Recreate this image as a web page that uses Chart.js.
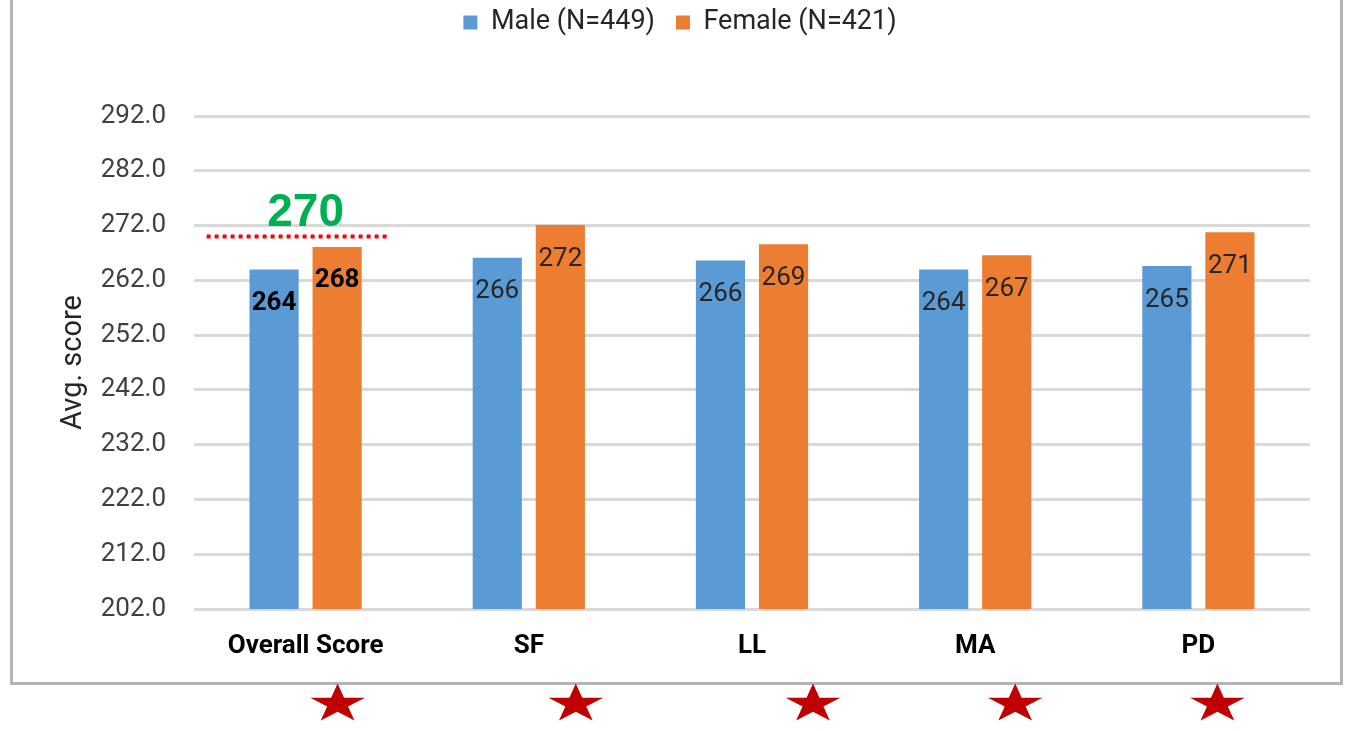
<!DOCTYPE html>
<html>
<head>
<meta charset="utf-8">
<script src="https://cdn.jsdelivr.net/npm/chart.js@4.4.1/dist/chart.umd.min.js"></script>
<style>
  html, body { margin: 0; padding: 0; background: #fff; }
  #wrap { width: 1345px; height: 731px; position: relative; }
</style>
</head>
<body>
<div id="wrap"><canvas id="scoreChart" width="1345" height="731"></canvas></div>
<script>
// Chart data
const categories = ['Overall Score', 'SF', 'LL', 'MA', 'PD'];
const seriesLabels = ['Male (N=449)', 'Female (N=421)'];
const maleScores = [264.0, 266.1, 265.6, 264.0, 264.6];
const femaleScores = [268.1, 272.1, 268.6, 266.6, 270.8];
const yTicks = [202, 212, 222, 232, 242, 252, 262, 272, 282, 292];
const targetScore = 270;
const targetLabel = '270';

// Styling
const FONT = 'Roboto, "Open Sans", sans-serif';
const BLUE = '#5B9BD5';
const ORANGE = '#ED7D31';
const starOffsets = [32, 47, 61, 40, 19]; // px right of each category centre

function drawStar(ctx, cx, cy, r, sx, color) {
  ctx.save();
  ctx.translate(cx, cy);
  ctx.scale(sx, 1);
  ctx.beginPath();
  for (let i = 0; i < 10; i++) {
    const rad = i % 2 === 0 ? r : r * 0.382;
    const a = -Math.PI / 2 + i * Math.PI / 5;
    const px = Math.cos(a) * rad, py = Math.sin(a) * rad;
    i === 0 ? ctx.moveTo(px, py) : ctx.lineTo(px, py);
  }
  ctx.closePath();
  ctx.fillStyle = color;
  ctx.fill();
  ctx.restore();
}

const decorPlugin = {
  id: 'decor',
  beforeInit(chart) {
    // fixed legend block height so the plot starts where the original does
    const origFit = chart.legend.fit;
    chart.legend.fit = function () {
      origFit.call(this);
      this.height = 128;
    };
  },
  afterDatasetsDraw(chart) {
    const ctx = chart.ctx;
    ctx.save();
    ctx.textAlign = 'center';
    ctx.textBaseline = 'middle';
    chart.data.datasets.forEach((ds, di) => {
      chart.getDatasetMeta(di).data.forEach((bar, i) => {
        const bold = i === 0;
        ctx.font = (bold ? 'bold ' : '') + '26px ' + FONT;
        ctx.fillStyle = bold ? '#000' : '#262626';
        ctx.fillText(Math.round(ds.data[i]).toString(), bar.x, bar.y + 34);
      });
    });
    ctx.restore();
  },
  afterDraw(chart) {
    const ctx = chart.ctx;
    const xs = chart.scales.x, ys = chart.scales.y;
    ctx.save();

    // dotted target line over the overall score
    const cx0 = xs.getPixelForValue(0);
    const ty = ys.getPixelForValue(targetScore);
    ctx.strokeStyle = '#FF0000';
    ctx.lineWidth = 4;
    ctx.setLineDash([4, 4]);
    ctx.beginPath();
    ctx.moveTo(cx0 - 99, ty);
    ctx.lineTo(cx0 + 83, ty);
    ctx.stroke();
    ctx.setLineDash([]);

    ctx.font = 'bold 46px "Liberation Sans", Arial, sans-serif';
    ctx.fillStyle = '#00B050';
    ctx.textAlign = 'center';
    ctx.textBaseline = 'alphabetic';
    ctx.fillText(targetLabel, cx0, ty - 11);

    // chart frame (left, bottom, right)
    ctx.strokeStyle = '#B4B4B4';
    ctx.lineWidth = 3;
    ctx.beginPath();
    ctx.moveTo(11.5, 0);
    ctx.lineTo(11.5, 683.5);
    ctx.lineTo(1341.5, 683.5);
    ctx.lineTo(1341.5, 0);
    ctx.stroke();

    // stars under each category
    categories.forEach((c, i) => {
      drawStar(ctx, xs.getPixelForValue(i) + starOffsets[i], 704, 20.5, 1.4, '#C00000');
    });
    ctx.restore();
  }
};

new Chart(document.getElementById('scoreChart'), {
  type: 'bar',
  data: {
    labels: categories,
    datasets: [
      { label: seriesLabels[0], data: maleScores, backgroundColor: BLUE,
        barPercentage: 0.78, categoryPercentage: 0.565 },
      { label: seriesLabels[1], data: femaleScores, backgroundColor: ORANGE,
        barPercentage: 0.78, categoryPercentage: 0.565 }
    ]
  },
  options: {
    responsive: false,
    devicePixelRatio: 1,
    animation: false,
    layout: { padding: { left: 50, right: 35, top: -12, bottom: 0 } },
    plugins: {
      legend: {
        position: 'top',
        labels: {
          boxWidth: 14,
          boxHeight: 14,
          padding: 21,
          color: '#262626',
          font: { family: FONT, size: 27 }
        }
      },
      tooltip: { enabled: false }
    },
    scales: {
      x: {
        grid: { display: false, drawTicks: false },
        border: { display: false },
        ticks: {
          color: '#000',
          padding: 22,
          font: { family: FONT, size: 26, weight: 'bold' }
        },
        afterFit(s) { s.height = 122; }
      },
      y: {
        min: 202,
        max: 292,
        afterBuildTicks(s) { s.ticks = yTicks.map(v => ({ value: v })); },
        grid: { color: '#D9D9D9', lineWidth: 3, drawTicks: false },
        border: { display: false },
        ticks: {
          color: '#404040',
          padding: 28,
          font: { family: FONT, size: 26 },
          callback: v => Number(v).toFixed(1)
        },
        title: {
          display: true,
          text: 'Avg. score',
          color: '#262626',
          padding: { top: 6, bottom: 4 },
          font: { family: FONT, size: 29 }
        },
        afterFit(s) { s.width = 144; }
      }
    }
  },
  plugins: [decorPlugin]
});
</script>
</body>
</html>
